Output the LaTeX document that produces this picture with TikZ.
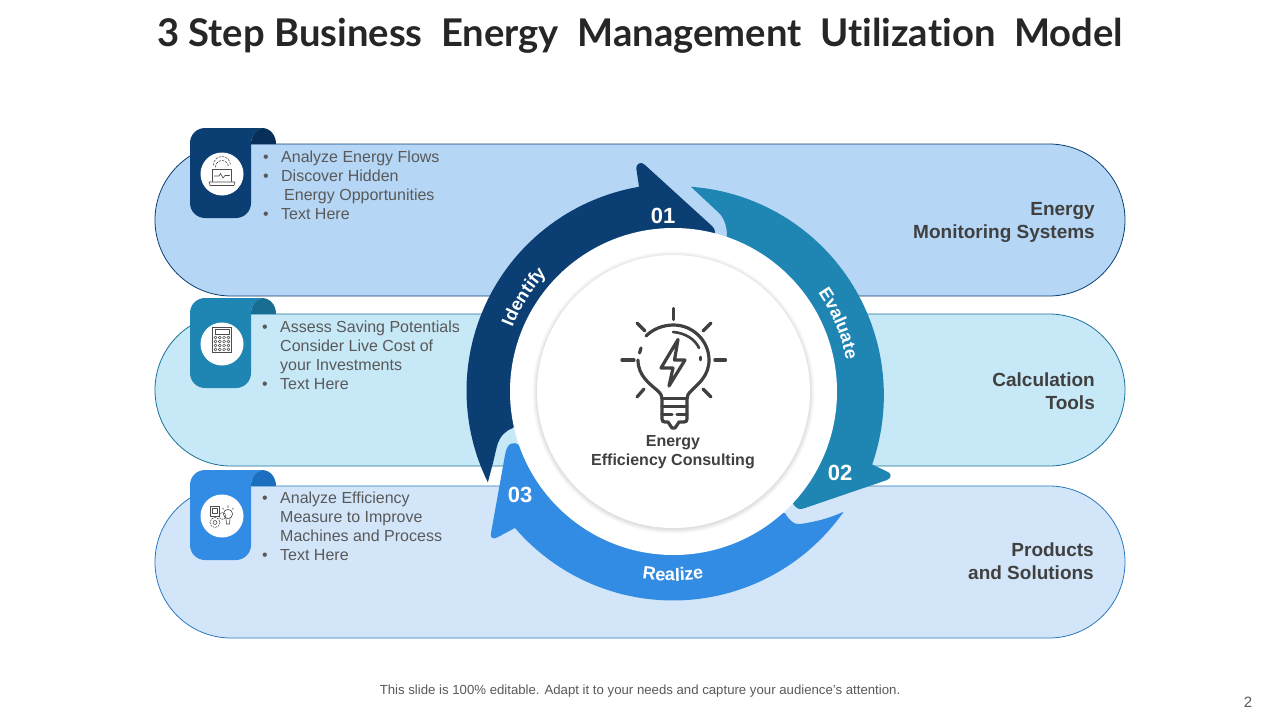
\documentclass[tikz,border=0pt]{standalone}
\usepackage{fontspec}
\setmainfont{Liberation Sans}
\newfontfamily\titlefont[Ligatures=NoCommon]{Lato}
\usetikzlibrary{decorations.text}
\definecolor{navy}{HTML}{0B3F73}
\definecolor{navyd}{HTML}{082F58}
\definecolor{teal}{HTML}{1F86B3}
\definecolor{teald}{HTML}{186D93}
\definecolor{azure}{HTML}{338CE3}
\definecolor{azured}{HTML}{1B6FBE}
\definecolor{pilla}{HTML}{B5D6F5}
\definecolor{pillb}{HTML}{C7E8F7}
\definecolor{pillc}{HTML}{D3E6F9}
\definecolor{ink}{HTML}{404040}
\definecolor{soft}{HTML}{595959}
\tikzset{
  pillshape/.style={line width=0.8pt,rounded corners=76pt},
  bulletsty/.style={anchor=north west,align=left,inner sep=0pt,text=soft,font=\fontsize{16}{19}\selectfont},
  sidesty/.style={anchor=east,align=right,inner sep=0pt,text=ink,font=\fontsize{19}{23}\selectfont\bfseries},
  numsty/.style={text=white,inner sep=0pt,font=\fontsize{22}{22}\selectfont\bfseries},
  iconthin/.style={draw=black!70,line width=0.6pt,line cap=round,line join=round},
  bulbline/.style={draw=ink,line width=3.2pt,line cap=round,line join=round},
  curvelabel/.style={decorate},
}
\newcommand{\bl}{\hspace*{2pt}\makebox[18pt][l]{•}}
\newcommand{\tabshape}[3]{%
  \fill[#2] (190,#1+15) arc[start angle=180,end angle=270,radius=15] -- (262,#1)
     .. controls (255,#1+2) and (251,#1+8) .. (251,#1+16) -- (251,#1+75)
     arc[start angle=0,end angle=90,radius=15] -- (205,#1+90)
     arc[start angle=90,end angle=180,radius=15] -- cycle;
  \fill[#3] (251,#1+16) .. controls (251,#1+8) and (255,#1+2) .. (262,#1)
     .. controls (270,#1) and (276,#1+7) .. (276,#1+16) -- cycle;
  \fill[white] (222,#1+46) circle (21.5);
}
\begin{document}
\begin{tikzpicture}[x=1pt,y=1pt,yscale=-1]
\useasboundingbox (0,0) rectangle (1280,720);
\fill[white] (0,0) rectangle (1280,720);
% pills
\filldraw[pillshape,fill=pilla,draw=navy] (155,144) rectangle (1125,296);
\filldraw[pillshape,fill=pillb,draw=teal!85!black] (155,314) rectangle (1125,466);
\filldraw[pillshape,fill=pillc,draw=azure!85!black] (155,486) rectangle (1125,638);
% tabs
\tabshape{128}{navy}{navyd}
\tabshape{298}{teal}{teald}
\tabshape{470}{azure}{azured}
% laptop icon
\draw[iconthin] (212.5,181.5) -- (212.5,169.5) -- (231.5,169.5) -- (231.5,181.5);
\draw[iconthin] (209,182) -- (235,182) -- (234,185.5) -- (210,185.5) -- cycle;
\draw[iconthin] (214.5,176) -- (219,176) -- (220.5,173.5) -- (223,178) -- (225,175.5) -- (229.5,175.5);
\draw[iconthin,dash pattern=on 2pt off 1.4pt] (215.5,167) arc[start angle=180,end angle=360,radius=6.5];
\draw[iconthin,dash pattern=on 2pt off 1.4pt] (213.5,165) arc[start angle=180,end angle=360,radius=8.5];
% calculator icon
\draw[iconthin] (212.5,327.5) rectangle (231,352.5);
\draw[iconthin] (215,329.5) rectangle (229,334.5);
\foreach \yy in {337.5,341.5,345.5,349.5}
  \foreach \xx in {215.5,219.8,224.1,228.4}
    \draw[iconthin,line width=0.5pt] (\xx,\yy) circle (1.5);
% tech icon
\draw[iconthin] (210,506) rectangle (219,516);
\draw[iconthin] (212,508.5) rectangle (217,513.5);
\draw[iconthin,dash pattern=on 1.6pt off 1.2pt] (215,522.5) circle (5);
\draw[iconthin] (215,522.5) circle (2);
\draw[iconthin,dash pattern=on 1.4pt off 1pt] (222.5,516) circle (3.4);
\draw[iconthin] (228,514) circle (4.6);
\draw[iconthin] (226,518.5) -- (226.5,524) -- (229.5,524) -- (230,518.5);
\draw[iconthin] (228,505.5) -- (228,507.5) (222.5,508) -- (223.8,509.2) (233.5,508) -- (232.2,509.2);
% arrows
\fill[navy] plot[domain=154:260.6,samples=60] ({673+(206+2*(\x-154)/106.6)*cos(\x)},{392+(206+2*(\x-154)/106.6)*sin(\x)})
  -- (636.5,170) .. controls (635.5,163) and (641,161) .. (645,165) -- (712,226)
  .. controls (716,230) and (716,234) .. (712,238) -- (680,300) -- (600,300) -- (513,428)
  .. controls (505,431) and (500,436) .. (497,446) -- (493,463) -- cycle;
\fill[teal] plot[domain=-85:20,samples=60] ({673+(206+6*(\x+85)/105)*cos(\x)},{392+(206+6*(\x+85)/105)*sin(\x)})
  -- (886,471) .. controls (892,473) and (892,478) .. (887,480) -- (805,508)
  .. controls (800,510) and (797,509) .. (794,505) -- (770,470) -- (700,300) -- (727,236)
  .. controls (727,228) and (725,219) .. (719,213) -- cycle;
\fill[azure] plot[domain=35.2:139.3,samples=60] ({673+208.5*cos(\x)},{392+208.5*sin(\x)})
  -- (498,537) .. controls (493,540) and (490,538) .. (491,533) -- (505,455)
  .. controls (507,443) and (513,440) .. (520,446) -- (560,480) -- (700,520) -- (785,513)
  .. controls (789,520) and (794,525) .. (800,524) .. controls (815,522) and (830,518) .. (843,512) -- cycle;
% centre discs
\fill[white] (673.5,391.5) circle (163.5);
\foreach \rr in {141,140,139,138,137.5}
  \fill[black,opacity=0.022] (673.5,392.5) circle (\rr);
\fill[white] (673.5,391.5) circle (136.5);
% bulb
\draw[bulbline] (673.5,308.5) -- (673.5,319.5);
\draw[bulbline] (622,360) -- (634,360);
\draw[bulbline] (715,360) -- (725.5,360);
\draw[bulbline] (637,323) -- (645,331);
\draw[bulbline] (711,323) -- (703,331);
\draw[bulbline] (637,397) -- (644,389);
\draw[bulbline] (711,397) -- (703,389);
\draw[bulbline] (646,336) .. controls (653,329) and (663,325) .. (673.5,325)
  .. controls (693,325) and (709,341) .. (709,360)
  .. controls (709,376) and (698,384) .. (691,391) .. controls (688,394) and (687,396) .. (687,399) -- (687,419)
  .. controls (687,421) and (686,422) .. (684,422) -- (679,422) -- (675,428) -- (672,428) -- (668,422) -- (665,422)
  .. controls (663,422) and (662,421) .. (662,419) -- (662,399)
  .. controls (662,396) and (661,394) .. (658,391) .. controls (650,384) and (638,376) .. (638,360);
\draw[bulbline] (639.5,353) -- (641,348);
\draw[bulbline] (662,398.5) -- (687,398.5) (662,406.5) -- (687,406.5) (662,414.5) -- (672,414.5) (677,414.5) -- (687,414.5);
\draw[bulbline,line width=2.6pt] (673,332) .. controls (685,333) and (695,339) .. (699,348);
\draw[bulbline,line width=2.6pt] (700.5,357) -- (700.5,360);
\draw[bulbline] (669,386) -- (685,360) -- (674.5,360) -- (678,339.5) -- (661,368) -- (673,368) -- (669,386);
% left texts
\node[bulletsty] (ta) at (261,150.5) {\bl Analyze Energy Flows\\\bl Discover Hidden\\\hspace*{23pt}Energy Opportunities\\\bl Text Here};
\node[bulletsty] (tb) at (260,320.5) {\bl Assess Saving Potentials\\\hspace*{20pt}Consider Live Cost of\\\hspace*{20pt}your Investments\\\bl Text Here};
\node[bulletsty] (tc) at (260,491.5) {\bl Analyze Efficiency\\\hspace*{20pt}Measure to Improve\\\hspace*{20pt}Machines and Process\\\bl Text Here};
% right texts
\node[sidesty] (sa) at (1095,222) {Energy\\Monitoring Systems};
\node[sidesty] (sb) at (1095,391) {Calculation\\Tools};
\node[sidesty] (sc) at (1094,561) {Products\\and Solutions};
% centre text
\node[align=center,inner sep=0pt,text=ink,font=\fontsize{16}{19}\selectfont\bfseries] (cc) at (673,452) {Energy\\Efficiency Consulting};
% numbers
\node[numsty] (na) at (663,216) {01};
\node[numsty] (nb) at (840,473) {02};
\node[numsty] (nc) at (520,495) {03};
% curved labels
\begin{scope}[yscale=-1]
\path[curvelabel,decoration={text along path,text align=center,text color=white,text={|\fontsize{18}{18}\selectfont\bfseries|Identify}}]
   (673,-392) ++(165:173) arc[start angle=165,end angle=130,radius=173];
\path[curvelabel,decoration={text along path,text align=center,text color=white,text={|\fontsize{18}{18}\selectfont\bfseries|Evaluate}}]
   (673,-392) ++(41:176) arc[start angle=41,end angle=4,radius=176];
\path[curvelabel,decoration={text along path,text align=center,text color=white,text={|\fontsize{18}{18}\selectfont\bfseries|Realize}}]
   (673,-392) ++(252:189) arc[start angle=252,end angle=288,radius=189];
\end{scope}
% title & footer
\node[inner sep=0pt,text=black!85,font=\fontsize{38.2}{38.2}\selectfont\titlefont\bfseries] (title) at (640,36) {3 Step Business\ \ Energy\ \ Management\ \ Utilization\ \ Model};
\node[inner sep=0pt,text=soft,font=\fontsize{13.2}{13.2}\selectfont] (foot) at (640,691.5) {This slide is 100\% editable. Adapt it to your needs and capture your audience's attention.};
\node[inner sep=0pt,text=soft,font=\fontsize{15}{15}\selectfont] (page) at (1248,702) {2};
\end{tikzpicture}
\end{document}
